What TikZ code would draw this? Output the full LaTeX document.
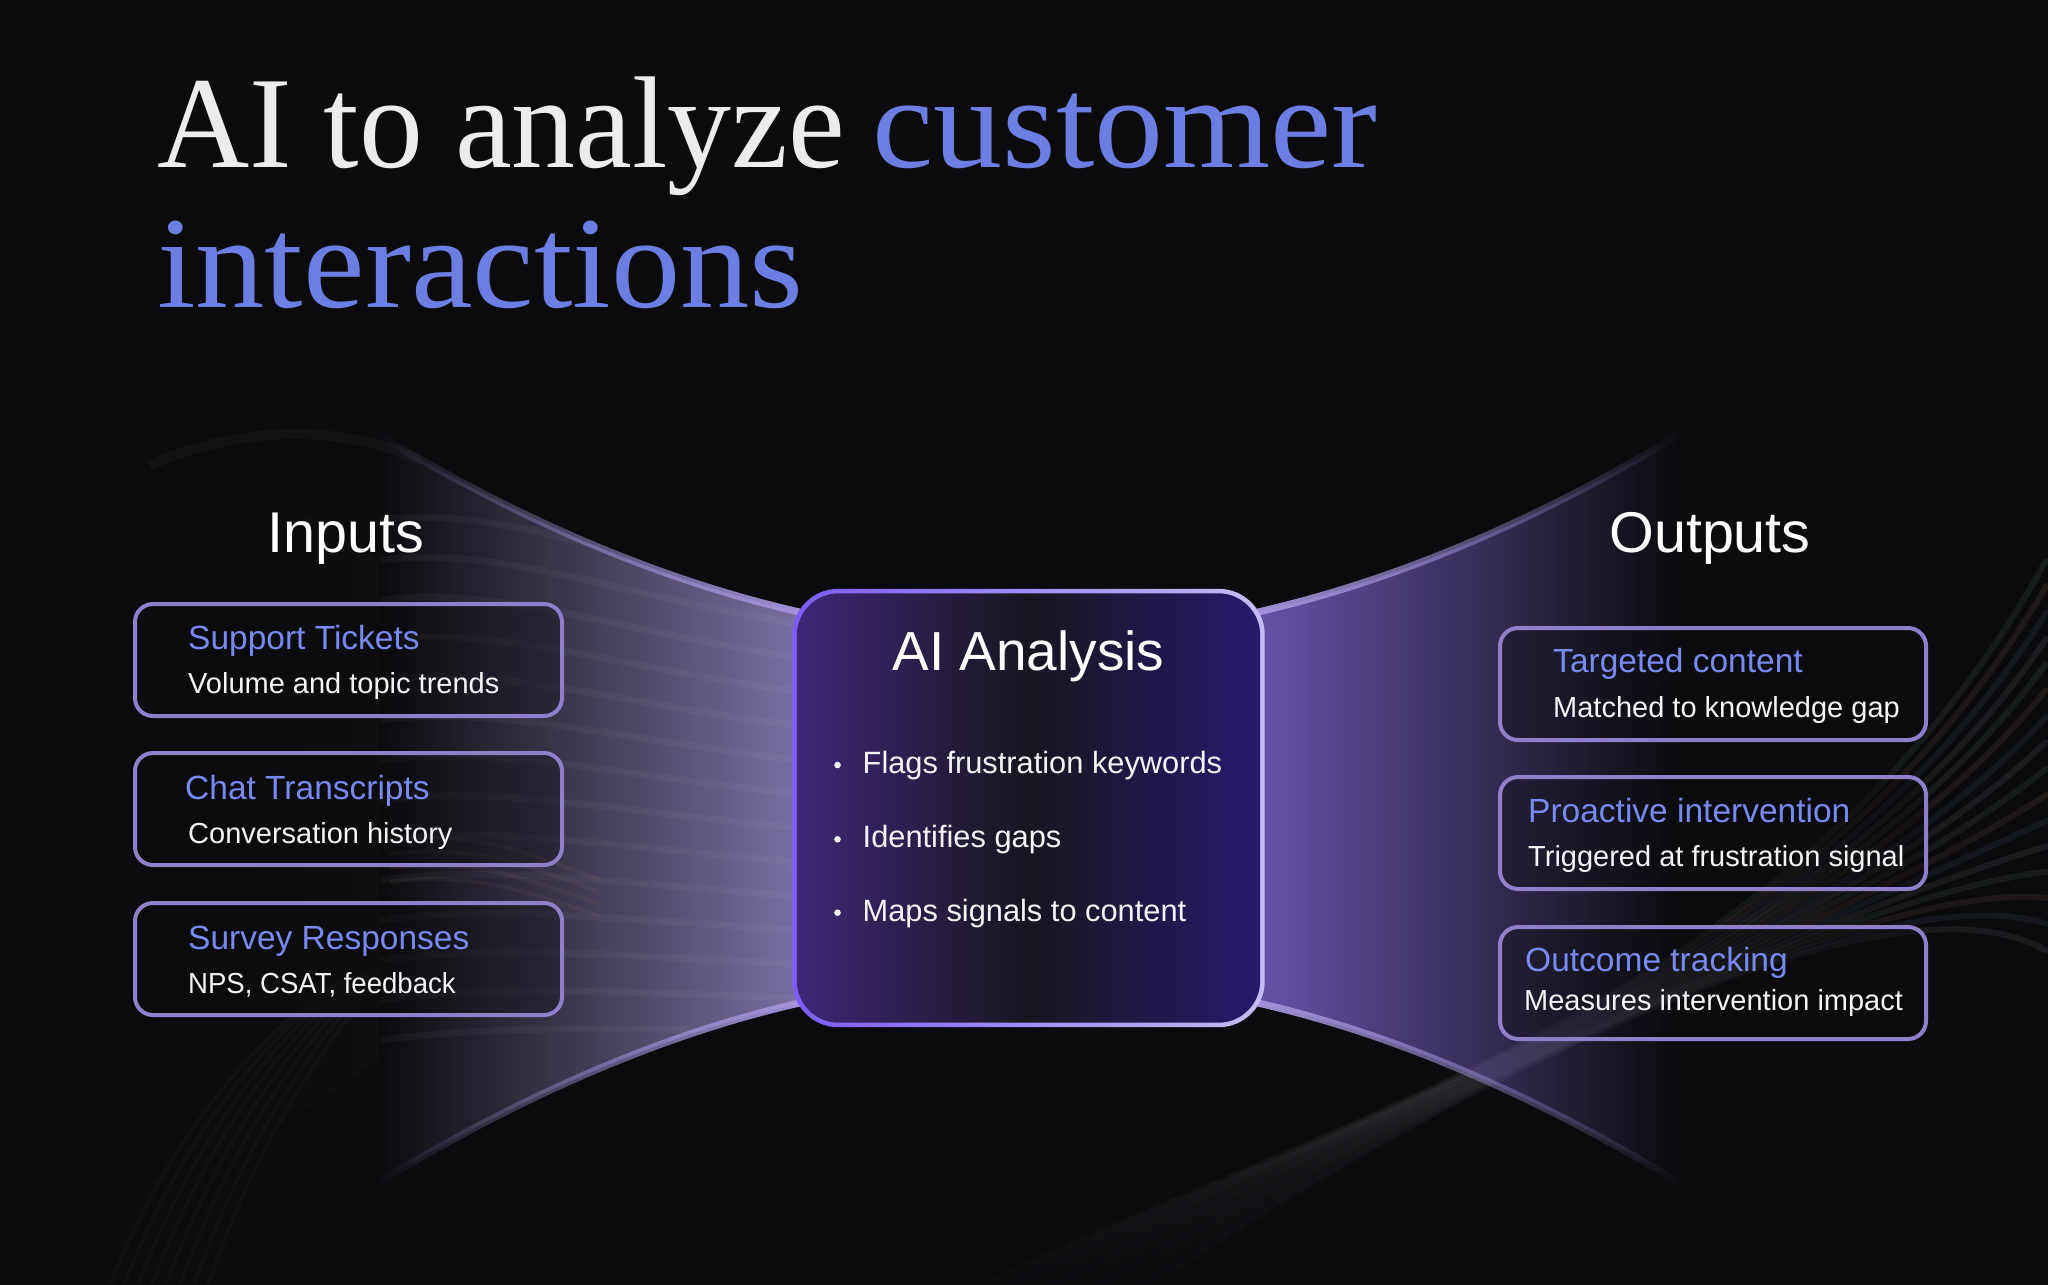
\documentclass[tikz,border=0pt]{standalone}
\usepackage{fontspec}
\setmainfont{Liberation Sans}
\newfontfamily\titlefont{Liberation Serif}
\usetikzlibrary{fadings}
\definecolor{bg}{HTML}{0B0B0D}
\definecolor{edgelav}{HTML}{A293DB}
\definecolor{boxedge}{HTML}{9080CC}
\definecolor{peri}{HTML}{7A89F2}
\definecolor{titleblue}{HTML}{6C7EE2}
\definecolor{offwhite}{HTML}{ECECEC}
\definecolor{subwhite}{HTML}{F4F4F6}
\definecolor{funL}{HTML}{7A70A2}
\definecolor{funR}{HTML}{6654AA}
\definecolor{aiL}{HTML}{3F2778}
\definecolor{aiM}{HTML}{17161F}
\definecolor{aiR}{HTML}{261A6E}
\definecolor{aiBL}{HTML}{7B5CF5}
\definecolor{aiBR}{HTML}{C8BCF4}
\definecolor{stBrown}{HTML}{9A7060}
\definecolor{stGreen}{HTML}{70867A}
\definecolor{stBlue}{HTML}{5E6E9A}
\definecolor{stGray}{HTML}{8A8A94}
\pgfdeclarehorizontalshading{aifill}{100bp}{color(0bp)=(aiL); color(25bp)=(aiL); color(50bp)=(aiM); color(75bp)=(aiR); color(100bp)=(aiR)}
\tikzfading[name=fadeL, left color=transparent!100, right color=transparent!0]
\tikzfading[name=fadeR, left color=transparent!0, right color=transparent!100]
\tikzfading[name=edgeL, left color=transparent!100, middle color=transparent!45, right color=transparent!0]
\tikzfading[name=edgeR, left color=transparent!0, middle color=transparent!45, right color=transparent!100]
\tikzfading[name=streakfade, left color=transparent!85, right color=transparent!0]
\tikzset{
  iobox/.style={draw=boxedge, line width=4pt, rounded corners=18pt, fill=bg, fill opacity=0.35,
    minimum width=427pt, minimum height=112pt, inner sep=0pt, anchor=north west},
  boxtitle/.style={anchor=base west, inner sep=0pt, text=peri, font=\fontsize{33.5}{33.5}\selectfont},
  boxsub/.style={anchor=base west, inner sep=0pt, text=subwhite, font=\fontsize{29}{29}\selectfont},
  heading/.style={anchor=base, inner sep=0pt, text=white, font=\fontsize{57.5}{57.5}\selectfont},
  bullettext/.style={anchor=base west, inner sep=0pt, text=subwhite, font=\fontsize{30.8}{30.8}\selectfont},
  bigtitle/.style={anchor=base west, inner sep=0pt, font=\titlefont\fontsize{130.7}{130.7}\selectfont},
  streak/.style={line width=6pt, line cap=round},
}
\begin{document}
\begin{tikzpicture}[x=1pt,y=-1pt]
\fill[bg] (0,0) rectangle (2048,1285);
\useasboundingbox (0,0) rectangle (2048,1285);

% sweeping streak bundle (bottom centre to right edge)
\foreach \i in {0,...,15} {
  \pgfmathtruncatemacro{\k}{mod(\i,4)}
  \ifcase\k \def\sc{stGreen}\or \def\sc{stBrown}\or \def\sc{stBlue}\or \def\sc{stGray}\fi
  \draw[streak, color=\sc, opacity=0.14, path fading=streakfade]
    (985+\i*11,1285) .. controls (1320+\i*10,1120-\i*3) and (1800+\i*6,1010-\i*10) .. (2048,560+\i*26);
}
% bottom-left streaks
\foreach \i in {0,...,7} {
  \draw[streak, line width=4pt, color=stGreen, opacity=0.045] (110+\i*14,1285) .. controls (160+\i*13,1160) and (230+\i*11,1060) .. (330+\i*9,985-\i*3);
}
% faint arc and haze on the left
\draw[white, opacity=0.03, line width=10pt] (150,465) .. controls (230,430) and (330,420) .. (420,460);
\fill[white, opacity=0.02, path fading=fadeL] (130,430) .. controls (250,470) and (320,520) .. (379,560) -- (379,1060) .. controls (320,1100) and (250,1150) .. (130,1190) -- cycle;

% left funnel
\coordinate (lt) at (379,435);
\coordinate (lb) at (379,1182);
\coordinate (rt) at (1679,435);
\coordinate (rb) at (1679,1182);
\fill[funL, path fading=fadeL] (lt) .. controls (520,520) and (660,580) .. (800,612) -- (800,1003) .. controls (660,1035) and (520,1097) .. (lb) -- cycle;
\begin{scope}
\clip (lt) .. controls (520,520) and (660,580) .. (800,612) -- (800,1003) .. controls (660,1035) and (520,1097) .. (lb) -- cycle;
\foreach \i in {0,...,13} {
  \draw[white, opacity=0.035, line width=7pt] (380,520+\i*40) .. controls (500,505+\i*40) and (620,560+\i*36) .. (800,590+\i*34);
}
\foreach \i in {0,...,3} {
  \draw[stBrown, opacity=0.10, line width=4pt] (390,840+\i*14) .. controls (470,830+\i*14) and (520,850+\i*13) .. (600,880+\i*12);
}
\end{scope}
\draw[edgelav, line width=7pt, path fading=edgeL] (lt) .. controls (520,520) and (660,580) .. (800,612);
\draw[edgelav, line width=7pt, path fading=edgeL] (lb) .. controls (520,1097) and (660,1035) .. (800,1003);

% right funnel
\fill[funR, path fading=fadeR] (1258,612) .. controls (1398,580) and (1538,520) .. (rt) -- (rb) .. controls (1538,1097) and (1398,1035) .. (1258,1003) -- cycle;
\draw[edgelav, line width=7pt, path fading=edgeR] (1258,612) .. controls (1398,580) and (1538,520) .. (rt);
\draw[edgelav, line width=7pt, path fading=edgeR] (1258,1003) .. controls (1398,1035) and (1538,1097) .. (rb);

% title
\node[bigtitle, text=offwhite] (t1) at (157,167) {\scalebox{0.977}[1]{AI to analyze}};
\node[bigtitle, text=titleblue] (t1b) at (872,167) {\scalebox{1.055}[1]{customer}};
\node[bigtitle, text=titleblue] (t2) at (157,307) {\scalebox{1.06}[1]{interactions}};

% headings
\node[heading] (inputs) at (346,552) {Inputs};
\node[heading] (outputs) at (1710,552) {Outputs};

% input boxes
\node[iobox] (in1) at (133,602) {};
\node[iobox] (in2) at (133,751) {};
\node[iobox] (in3) at (133,901) {};
\node[boxtitle] (in1t) at (188,649) {Support Tickets};
\node[boxsub] (in1s) at (188,693.5) {Volume and topic trends};
\node[boxtitle] (in2t) at (185,799) {Chat Transcripts};
\node[boxsub] (in2s) at (188,843.5) {Conversation history};
\node[boxtitle] (in3t) at (188,949) {Survey Responses};
\node[boxsub] (in3s) at (188,993.5) {\scalebox{0.95}[1]{NPS, CSAT, feedback}};

% output boxes
\node[iobox, minimum width=426pt] (out1) at (1498,626) {};
\node[iobox, minimum width=426pt] (out2) at (1498,775) {};
\node[iobox, minimum width=426pt] (out3) at (1498,925) {};
\node[boxtitle] (out1t) at (1553,672.5) {Targeted content};
\node[boxsub] (out1s) at (1553,717) {Matched to knowledge gap};
\node[boxtitle] (out2t) at (1528,822.5) {Proactive intervention};
\node[boxsub] (out2s) at (1528,866.5) {Triggered at frustration signal};
\node[boxtitle] (out3t) at (1525,971.5) {Outcome tracking};
\node[boxsub] (out3s) at (1524,1010) {Measures intervention impact};

% center box
\node[minimum width=472pt, minimum height=438pt, inner sep=0pt] (ai) at (1028.5,808) {};
\shade[left color=aiBL, right color=aiBR, rounded corners=46pt] (ai.south west) rectangle (ai.north east);
\shade[shading=aifill, rounded corners=42pt] ([shift={(4.5pt,4.5pt)}]ai.south west) rectangle ([shift={(-4.5pt,-4.5pt)}]ai.north east);
\node[anchor=base, inner sep=0pt, text=white, font=\fontsize{55}{55}\selectfont] (aititle) at (1028.5,670) {AI Analysis};
\fill[subwhite] (837.5,765) circle (3.3pt);
\fill[subwhite] (837.5,839.3) circle (3.3pt);
\fill[subwhite] (837.5,912.7) circle (3.3pt);
\node[bullettext] (b1) at (862.5,773.5) {Flags frustration keywords};
\node[bullettext] (b2) at (862.5,847.5) {Identifies gaps};
\node[bullettext] (b3) at (862.5,921.5) {Maps signals to content};
\end{tikzpicture}
\end{document}
